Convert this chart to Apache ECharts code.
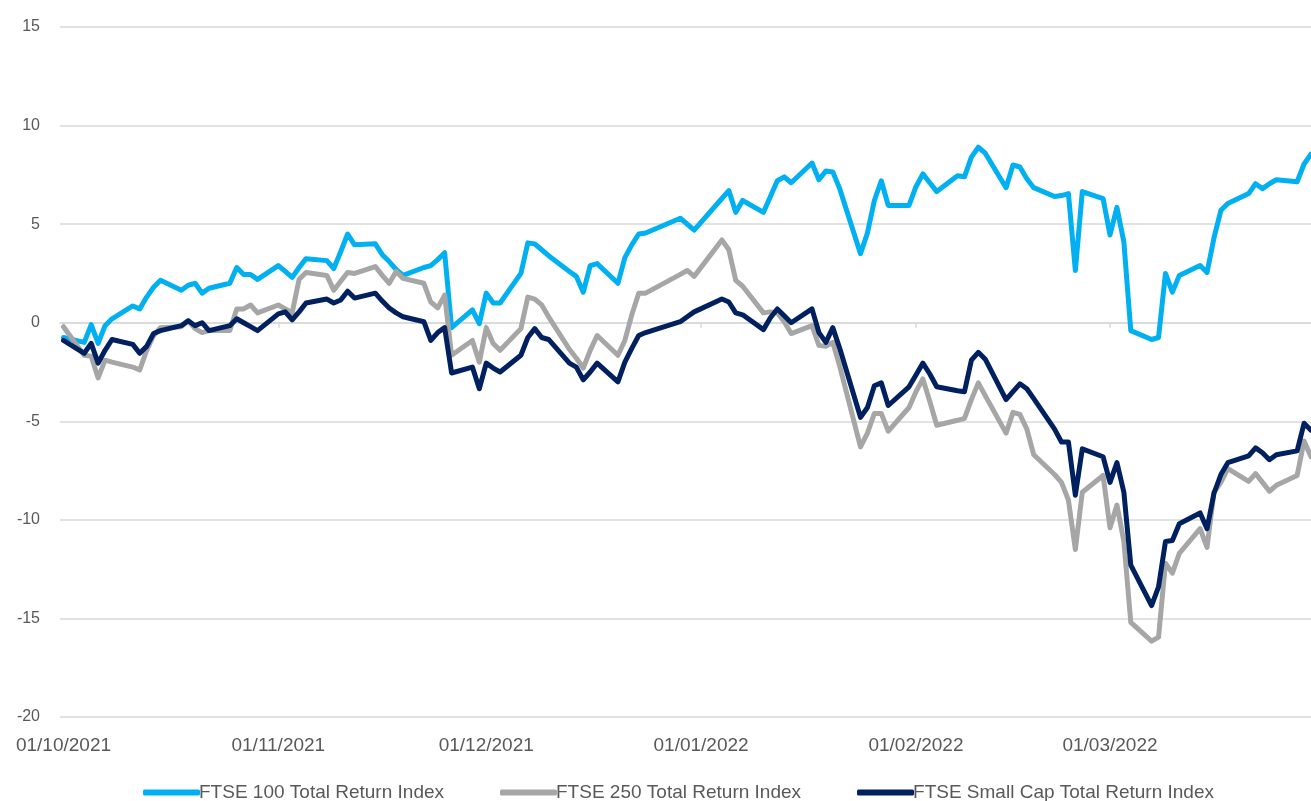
<!doctype html>
<html>
    <head>
        <meta charset="utf-8">
        <title>FTSE Total Return Indices</title>
        <style>
            html, body { margin: 0; padding: 0; background: #fff; }
            #main { width: 1311px; height: 801px; }
        </style>
    </head>
    <body>
        <div id="main"></div>
        <script src="https://cdn.jsdelivr.net/npm/echarts@6/dist/echarts.min.js"></script>
        <script>
            // trading days, Oct 2021 - Mar 2022
            var dates = [
                '2021-10-01', '2021-10-04', '2021-10-05', '2021-10-06', '2021-10-07', '2021-10-08',
                '2021-10-11', '2021-10-12', '2021-10-13', '2021-10-14', '2021-10-15',
                '2021-10-18', '2021-10-19', '2021-10-20', '2021-10-21', '2021-10-22',
                '2021-10-25', '2021-10-26', '2021-10-27', '2021-10-28', '2021-10-29',
                '2021-11-01', '2021-11-02', '2021-11-03', '2021-11-04', '2021-11-05',
                '2021-11-08', '2021-11-09', '2021-11-10', '2021-11-11', '2021-11-12',
                '2021-11-15', '2021-11-16', '2021-11-17', '2021-11-18', '2021-11-19',
                '2021-11-22', '2021-11-23', '2021-11-24', '2021-11-25', '2021-11-26',
                '2021-11-29', '2021-11-30',
                '2021-12-01', '2021-12-02', '2021-12-03',
                '2021-12-06', '2021-12-07', '2021-12-08', '2021-12-09', '2021-12-10',
                '2021-12-13', '2021-12-14', '2021-12-15', '2021-12-16', '2021-12-17',
                '2021-12-20', '2021-12-21', '2021-12-22', '2021-12-23', '2021-12-24',
                '2021-12-29', '2021-12-30', '2021-12-31',
                '2022-01-04', '2022-01-05', '2022-01-06', '2022-01-07',
                '2022-01-10', '2022-01-11', '2022-01-12', '2022-01-13', '2022-01-14',
                '2022-01-17', '2022-01-18', '2022-01-19', '2022-01-20', '2022-01-21',
                '2022-01-24', '2022-01-25', '2022-01-26', '2022-01-27', '2022-01-28',
                '2022-01-31', '2022-02-01', '2022-02-02', '2022-02-03', '2022-02-04',
                '2022-02-07', '2022-02-08', '2022-02-09', '2022-02-10', '2022-02-11',
                '2022-02-14', '2022-02-15', '2022-02-16', '2022-02-17', '2022-02-18',
                '2022-02-21', '2022-02-22', '2022-02-23', '2022-02-24', '2022-02-25',
                '2022-02-28', '2022-03-01', '2022-03-02', '2022-03-03', '2022-03-04',
                '2022-03-07', '2022-03-08', '2022-03-09', '2022-03-10', '2022-03-11',
                '2022-03-14', '2022-03-15', '2022-03-16', '2022-03-17', '2022-03-18',
                '2022-03-21', '2022-03-22', '2022-03-23', '2022-03-24', '2022-03-25',
                '2022-03-28', '2022-03-29', '2022-03-30'
            ];

            var ftse100 = [
                -0.75, -1.0, -0.1, -1.05, -0.15, 0.2, 0.85, 0.7, 1.3, 1.8, 2.15, 1.65, 1.9, 2.0, 1.5, 1.75, 2.0, 2.8, 2.45, 2.45, 2.2,
                2.9, 2.6, 2.3, 2.8, 3.25, 3.15, 2.75, 3.6, 4.5, 3.95, 4.0, 3.45, 3.1, 2.7, 2.4, 2.8, 2.9, 3.2, 3.55, -0.25, 0.65, -0.05,
                1.5, 1.0, 1.0, 2.5, 4.05, 4.0, 3.7, 3.4, 2.6, 2.35, 1.55, 2.9, 3.0, 2.0, 3.3, 3.95, 4.5, 4.55, 5.3, 5.0, 4.7,
                6.3, 6.7, 5.6, 6.2, 5.6, 6.4, 7.2, 7.4, 7.1, 8.1, 7.25, 7.7, 7.65, 6.8, 3.5, 4.55, 6.2, 7.2, 5.95, 5.95,
                6.9, 7.55, 7.1, 6.65, 7.45, 7.4, 8.4, 8.9, 8.6, 6.85, 8.0, 7.9, 7.3, 6.85, 6.4, 6.45, 6.55, 2.65, 6.65, 6.3,
                4.45, 5.85, 4.1, -0.4, -0.85, -0.75, 2.5, 1.55, 2.4, 2.9, 2.55, 4.3, 5.7, 6.05, 6.55, 7.05, 6.8, 7.05, 7.25, 7.15, 8.05, 8.55
            ];

            var ftse250 = [
                -0.2, -1.65, -1.7, -2.8, -1.9, -2.0, -2.25, -2.4, -1.4, -0.65, -0.25, -0.2, 0.1, -0.3, -0.5, -0.4, -0.4, 0.7, 0.7, 0.9, 0.5,
                0.9, 0.7, 0.5, 2.2, 2.55, 2.4, 1.65, 2.1, 2.55, 2.5, 2.85, 2.4, 2.0, 2.6, 2.25, 2.0, 1.05, 0.75, 1.4, -1.65, -0.9, -2.0,
                -0.25, -1.05, -1.4, -0.3, 1.3, 1.2, 0.9, 0.3, -1.35, -1.8, -2.3, -1.4, -0.65, -1.65, -0.9, 0.4, 1.5, 1.5, 2.45, 2.65, 2.35,
                4.2, 3.7, 2.15, 1.85, 0.5, 0.55, 0.5, 0.05, -0.55, -0.15, -1.15, -1.2, -1.0, -2.2, -6.3, -5.6, -4.6, -4.6, -5.5, -4.3,
                -3.5, -2.85, -4.0, -5.2, -4.95, -4.85, -3.9, -3.05, -3.7, -5.6, -4.55, -4.65, -5.4, -6.7, -7.7, -8.1, -9.0, -11.5, -8.6, -7.75,
                -10.4, -9.25, -11.1, -15.2, -16.15, -15.95, -12.2, -12.7, -11.7, -10.45, -11.4, -8.6, -8.1, -7.4, -8.05, -7.65, -8.1, -8.55, -8.25, -7.75, -6.0, -6.8
            ];

            var ftseSmallCap = [
                -0.9, -1.55, -1.05, -2.05, -1.4, -0.85, -1.1, -1.55, -1.2, -0.55, -0.4, -0.15, 0.1, -0.15, 0.0, -0.4, -0.15, 0.2, 0.0, -0.2, -0.4,
                0.45, 0.55, 0.15, 0.55, 1.0, 1.2, 1.0, 1.15, 1.6, 1.25, 1.5, 1.1, 0.75, 0.5, 0.3, 0.05, -0.9, -0.5, -0.25, -2.55, -2.25, -3.35,
                -2.05, -2.3, -2.5, -1.65, -0.75, -0.3, -0.75, -0.85, -2.05, -2.25, -2.9, -2.5, -2.05, -3.0, -2.0, -1.3, -0.65, -0.5, 0.05, 0.3, 0.55,
                1.2, 1.05, 0.5, 0.4, -0.35, 0.25, 0.7, 0.35, 0.0, 0.7, -0.5, -1.0, -0.25, -1.3, -4.8, -4.3, -3.2, -3.05, -4.2, -3.25,
                -2.65, -2.05, -2.6, -3.25, -3.45, -3.5, -1.9, -1.5, -1.85, -3.9, -3.5, -3.1, -3.35, -3.85, -5.4, -6.05, -6.05, -8.75, -6.4, -6.8,
                -8.1, -7.1, -8.6, -12.3, -14.35, -13.4, -11.1, -11.05, -10.2, -9.65, -10.45, -8.65, -7.7, -7.1, -6.75, -6.35, -6.6, -6.95, -6.7, -6.5, -5.1, -5.45
            ];

            var seriesNames = ['FTSE 100 Total Return Index', 'FTSE 250 Total Return Index', 'FTSE Small Cap Total Return Index'];
            var seriesColors = ['#00B0F0', '#A6A6A6', '#002060'];
            var monthStarts = ['2021-10-01', '2021-11-01', '2021-12-01', '2022-01-01', '2022-02-01', '2022-03-01'];

            function toTime(s) {
                var p = s.split('-');
                return new Date(+p[0], +p[1] - 1, +p[2]).getTime();
            }
            function pad(n) {
                return n < 10 ? '0' + n : '' + n;
            }
            function pairs(values) {
                return values.map(function (v, i) {
                    return [toTime(dates[i]), v];
                });
            }

            var tickValues = monthStarts.map(toTime);
            // Excel-style date axis: each day sits in the middle of its slot
            var xMin = new Date(2021, 8, 30, 12).getTime();
            var xMax = new Date(2022, 2, 30, 0).getTime();

            var chart = echarts.init(document.getElementById('main'));

            var allValues = [ftse100, ftse250, ftseSmallCap];

            chart.setOption({
                backgroundColor: '#fff',
                animation: false,
                grid: {
                    left: 60,
                    right: 0,
                    top: 27,
                    bottom: 84
                },
                legend: {
                    left: 138,
                    top: 778,
                    itemWidth: 57,
                    itemHeight: 6,
                    itemGap: 56,
                    icon: 'roundRect',
                    textStyle: {
                        fontFamily: 'Liberation Sans, Arial, sans-serif',
                        fontSize: 19,
                        color: '#595959',
                        padding: [0, 0, 0, -6]
                    },
                    data: seriesNames
                },
                xAxis: [{
                    type: 'value',
                    min: xMin,
                    max: xMax,
                    position: 'bottom',
                    axisLine: { show: false, onZero: false },
                    axisTick: { show: false },
                    splitLine: { show: false },
                    axisLabel: {
                        customValues: tickValues,
                        margin: 19,
                        fontFamily: 'Liberation Sans, Arial, sans-serif',
                        fontSize: 19,
                        color: '#595959',
                        formatter: function (v) {
                            var d = new Date(v);
                            return pad(d.getDate()) + '/' + pad(d.getMonth() + 1) + '/' + d.getFullYear();
                        }
                    }
                }, {
                    type: 'value',
                    min: xMin,
                    max: xMax,
                    position: 'bottom',
                    axisLine: {
                        show: true,
                        onZero: true,
                        lineStyle: { color: '#D9D9D9', width: 1.5 }
                    },
                    axisTick: {
                        show: true,
                        customValues: tickValues,
                        length: 5,
                        lineStyle: { color: '#D9D9D9', width: 1.5 }
                    },
                    axisLabel: { show: false },
                    splitLine: { show: false }
                }],
                yAxis: {
                    type: 'value',
                    min: -20,
                    max: 15,
                    interval: 5,
                    axisLine: { show: false },
                    axisTick: { show: false },
                    axisLabel: {
                        margin: 20,
                        fontFamily: 'Liberation Sans, Arial, sans-serif',
                        fontSize: 16,
                        color: '#595959'
                    },
                    splitLine: {
                        lineStyle: { color: '#D9D9D9', width: 1.5 }
                    }
                },
                series: seriesNames.map(function (name, k) {
                    return {
                        name: name,
                        type: 'line',
                        xAxisIndex: 0,
                        symbol: 'none',
                        showSymbol: false,
                        color: seriesColors[k],
                        lineStyle: {
                            width: 5,
                            color: seriesColors[k],
                            cap: 'round',
                            join: 'round'
                        },
                        data: pairs(allValues[k])
                    };
                })
            });

            window.onresize = chart.resize;
        </script>
    </body>
</html>
